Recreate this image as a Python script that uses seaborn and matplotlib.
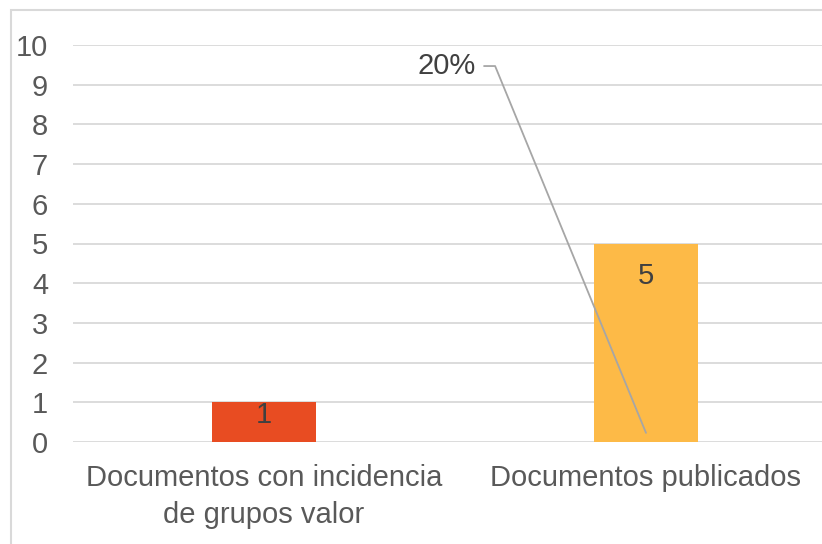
import numpy as np
import pandas as pd
import matplotlib.pyplot as plt
from matplotlib.patches import Rectangle
import seaborn as sns

# Data
categories = ["Documentos con incidencia\nde grupos valor", "Documentos publicados"]
values = [1, 5]
bar_colors = ["#E84C22", "#FDBA47"]
pct_label = "20%"

df = pd.DataFrame({"cat": categories, "val": values})

sns.set_theme(style="white")
plt.rcParams['font.family'] = ['Liberation Sans', 'DejaVu Sans']

fig = plt.figure(figsize=(8.22, 5.44), dpi=100)
ax = fig.add_axes([73 / 822, 1 - 442 / 544, 764 / 822, 397 / 544])

sns.barplot(data=df, x="cat", y="val", hue="cat", palette=bar_colors,
            width=0.272, legend=False, ax=ax, saturation=1, linewidth=0)

ax.set_ylim(0, 10)
ax.set_xlim(-0.5, 1.5)
ax.set_yticks(range(0, 11))
ax.yaxis.grid(True, color="#d9d9d9", linewidth=1.3)
ax.set_axisbelow(True)
for s in ax.spines.values():
    s.set_visible(False)
ax.set_xlabel("")
ax.set_ylabel("")
ax.tick_params(axis="y", length=0, pad=18, labelsize=21, labelcolor="#595959")
ax.tick_params(axis="x", length=0, pad=16, labelsize=21, labelcolor="#595959")
for t in ax.get_xticklabels():
    t.set_linespacing(1.4)

# data labels
offsets = [-13, -32]
for i, v in enumerate(values):
    ax.annotate(str(v), (i, v), xytext=(0, offsets[i]), textcoords="offset pixels",
                ha="center", va="center", fontsize=21, color="#404040")

# displaced percentage label with leader line
ax.plot([0.576, 0.605, 1.0], [9.47, 9.47, 0.23], color="#a6a6a6", lw=1.3, zorder=5)
ax.text(0.555, 9.47, pct_label, ha="right", va="center", fontsize=21, color="#404040")

# chart frame
fig.patches.append(Rectangle((11 / 822, -0.1), 1.2, 1 - 10 / 544 + 0.1,
                             transform=fig.transFigure, fill=False,
                             edgecolor="#d9d9d9", lw=1.5, zorder=0))

fig.savefig("out.png", dpi=100)
